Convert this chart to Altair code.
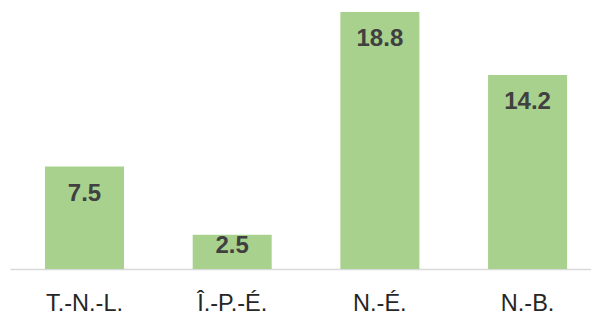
import altair as alt
import pandas as pd

categories = ["T.-N.-L.", "Î.-P.-É.", "N.-É.", "N.-B."]
values = [7.5, 2.5, 18.8, 14.2]
labels = ["7.5", "2.5", "18.8", "14.2"]

df = pd.DataFrame({"cat": categories, "value": values, "label": labels})

x = alt.X("cat:N", sort=categories, title=None,
          scale=alt.Scale(paddingInner=0.465, paddingOuter=0.1994, align=0.594),
          axis=alt.Axis(labelAngle=0, ticks=False, tickSize=0, domain=True, grid=False,
                        domainColor="#D9D9D9", domainWidth=1.3,
                        labelFont="Liberation Sans", labelFontSize=23.5,
                        labelColor="#262626", labelBaseline="alphabetic",
                        labelPadding=41))
y = alt.Y("value:Q", title=None, scale=alt.Scale(domain=[0, 19.1], nice=False),
          axis=None)

base = alt.Chart(df)

bars = base.mark_bar(color="#A9D18E").encode(x=x, y=y)

txt_big = base.transform_filter("datum.value >= 4").mark_text(
    font="Liberation Sans", fontWeight="bold", fontSize=24, color="#404040",
    baseline="middle", dy=27).encode(x=x, y=y, text="label:N")
txt_small = base.transform_filter("datum.value < 4").mark_text(
    font="Liberation Sans", fontWeight="bold", fontSize=24, color="#404040",
    baseline="middle", dy=11).encode(x=x, y=y, text="label:N")

chart = alt.layer(bars, txt_big, txt_small).properties(
    width=581, height=261,
    background="white",
    autosize=alt.AutoSizeParams(type="none"),
    padding={"left": 2, "top": 0, "right": 0, "bottom": 45},
).configure_view(strokeWidth=0, stroke="transparent")

chart.save("out.html", embed_options={"renderer": "svg", "actions": False})
